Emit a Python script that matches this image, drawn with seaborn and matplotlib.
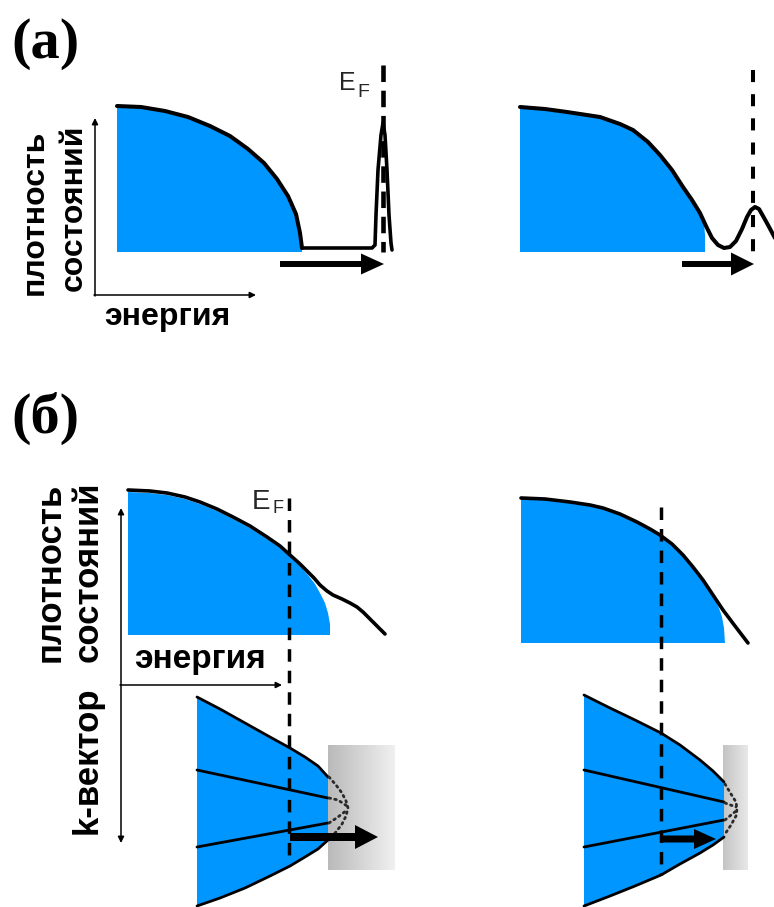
import numpy as np
import matplotlib
matplotlib.use("Agg")
import matplotlib.pyplot as plt
from matplotlib.patches import FancyArrow
import seaborn as sns

sns.set_theme(style="white")
plt.rcParams['font.family'] = ['Liberation Sans', 'DejaVu Sans']

BLUE = "#0096ff"

# ---------------- panel (а): density of states ----------------
# left: filled band with an isolated narrow peak at E_F
a1_band_x = [117, 141, 165, 188, 210, 230, 248, 264, 277, 288, 296, 300, 302]
a1_band_y = [106, 107, 111, 117, 126, 136, 149, 163, 179, 196, 214, 233, 250]
a1_tail_x = [302, 372, 375, 376, 378, 381, 383, 385, 387, 389, 391, 392]
a1_tail_y = [248, 248, 245, 215, 170, 135, 123, 135, 170, 215, 243, 250]
a1_ef_x = 383

# right: band edge merged with a broadened peak
a2_curve_x = [520, 545, 567, 600, 620, 633, 648, 660, 672, 683, 692, 700, 706,
              712, 718, 724, 730, 736, 742, 747, 751, 755, 759, 763, 768, 776]
a2_curve_y = [107, 109, 112, 117, 124, 130, 142, 155, 170, 187, 200, 213, 226,
              238, 245, 248, 247, 241, 229, 217, 210, 207, 209, 216, 225, 240]
a2_fill_x = [520, 545, 567, 600, 620, 633, 648, 660, 672, 683, 692, 700, 704, 705, 705]
a2_fill_y = [107, 109, 112, 117, 124, 130, 142, 155, 170, 187, 200, 213, 222, 235, 252]
a2_ef_x = 753

# ---------------- panel (б): DOS and k-space cones ----------------
b1_curve_x = [128, 150, 167, 185, 200, 217, 233, 250, 267, 280, 290, 300, 307, 314,
              320, 327, 333, 342, 350, 357, 363, 368, 373, 379, 385]
b1_curve_y = [490, 491, 493, 497, 502, 509, 517, 526, 537, 546, 555, 564, 571, 578,
              585, 591, 595, 599, 603, 607, 612, 617, 622, 628, 634]
b1_fill_x = [128, 150, 167, 185, 200, 217, 233, 250, 267, 280, 290, 300, 308, 315,
             320, 325, 328, 330, 330]
b1_fill_y = [492, 493, 495, 499, 504, 511, 519, 528, 539, 548, 557, 566, 575, 584,
             593, 603, 613, 624, 635]
b1_ef_x = 289

b2_curve_x = [521, 545, 570, 590, 603, 620, 637, 650, 660, 672, 683, 693, 703, 713, 723, 735, 748]
b2_curve_y = [498, 499, 502, 505, 508, 514, 522, 529, 535, 544, 555, 567, 580, 595, 610, 626, 643]
b2_fill_x = [521, 545, 570, 590, 603, 620, 637, 650, 660, 672, 683, 693, 703, 709, 715, 719, 722, 724, 725]
b2_fill_y = [499, 500, 503, 506, 509, 515, 523, 530, 536, 545, 556, 568, 581, 590, 600, 608, 617, 628, 643]
b2_ef_x = 661

# cones in k-space: upper / lower boundaries and two inner rays
c1_up_x = [197, 220, 245, 270, 290, 305, 318, 328]
c1_up_y = [697, 709, 723, 737, 748, 757, 766, 777]
c1_lo_x = [197, 220, 245, 270, 290, 305, 318, 328]
c1_lo_y = [906, 898, 888, 876, 866, 857, 849, 840]
c1_rays = [([197, 328], [770, 798]), ([197, 328], [847, 823])]
c1_dots = [([329, 336, 342, 346, 348, 346, 342, 336, 330], [777, 785, 793, 801, 808, 816, 824, 832, 838]),
           ([329, 338, 347], [798, 800, 806]),
           ([329, 338, 347], [823, 817, 810])]

c2_up_x = [584, 610, 635, 661, 680, 700, 713, 724]
c2_up_y = [695, 708, 720, 733, 745, 760, 771, 782]
c2_lo_x = [584, 610, 635, 661, 680, 700, 713, 724]
c2_lo_y = [906, 896, 886, 875, 864, 853, 845, 837]
c2_rays = [([584, 724], [770, 802]), ([584, 724], [847, 820])]
c2_dots = [([725, 731, 736, 737, 736, 731, 725], [784, 794, 802, 809, 816, 825, 834]),
           ([725, 736], [803, 807]),
           ([725, 736], [820, 811])]

fig = plt.figure(figsize=(7.74, 9.07), dpi=100)
ax = fig.add_axes([0, 0, 1, 1])
ax.set_xlim(0, 774)
ax.set_ylim(907, 0)
ax.axis("off")

LW = 2.9   # main curve width (pt)


def curve(x, y, lw=LW, z=3, **kw):
    sns.lineplot(x=x, y=y, sort=False, estimator=None, color="black", lw=lw,
                 ax=ax, zorder=z, solid_capstyle="round", solid_joinstyle="round", **kw)


def band(x, y, base):
    xs = [x[0]] + list(x) + [x[-1]]
    ys = [base] + list(y) + [base]
    ax.fill(xs, ys, color=BLUE, lw=0, zorder=2)


def dashed(x, y0, y1, lw=2.9, pattern=(3, 3)):
    ax.plot([x, x], [y0, y1], color="black", lw=lw, dashes=pattern, zorder=5)


def fat_arrow(x0, x1, y, width, hw, hl):
    ax.add_patch(FancyArrow(x0, y, x1 - x0, 0, width=width, head_width=hw,
                            head_length=hl, length_includes_head=True,
                            color="black", lw=0, zorder=6))


def thin_arrow(p0, p1, both=False):
    ax.annotate("", xy=p1, xytext=p0,
                arrowprops=dict(arrowstyle="<|-|>" if both else "-|>", color="black",
                                lw=1.1, mutation_scale=9, shrinkA=0, shrinkB=0),
                zorder=4)


def gradient_box(x0, x1, y0, y1, c0, c1):
    g = np.linspace(0, 1, 64)[None, :]
    ax.imshow(g, cmap=matplotlib.colors.LinearSegmentedColormap.from_list("g", [c0, c1]),
              extent=(x0, x1, y1, y0), aspect="auto", zorder=1, interpolation="bilinear")


bold = dict(fontweight="bold", color="black")

# ---- (а) left ----
band(a1_band_x, a1_band_y, 252)
curve(a1_band_x[:-1] + [302], a1_band_y[:-1] + [248])
curve(a1_tail_x, a1_tail_y, lw=2.6)
dashed(a1_ef_x, 65, 252, lw=3.3, pattern=(3.6, 1.9))
fat_arrow(280, 384, 264, 6, 21, 23)
thin_arrow((95, 296), (95, 118))
thin_arrow((94, 295), (256, 295))
ax.text(339, 90, "E", fontsize=18, ha="left", va="baseline")
ax.text(357, 97, "F", fontsize=14, ha="left", va="baseline")
ax.text(43, 212, "плотность", rotation=90, rotation_mode="anchor", ha="center",
        va="baseline", fontsize=23, **bold)
ax.text(82, 208, "состояний", rotation=90, rotation_mode="anchor", ha="center",
        va="baseline", fontsize=23, **bold)
ax.text(167, 325, "энергия", ha="center", va="baseline", fontsize=23, **bold)
ax.text(11, 44, "(а)", family=["Liberation Serif"], fontsize=42, ha="left", va="center", **bold)

# ---- (а) right ----
ax.fill([520] + a2_fill_x, [252] + a2_fill_y, color=BLUE, lw=0, zorder=2)
curve(a2_curve_x, a2_curve_y)
dashed(a2_ef_x, 70, 252)
fat_arrow(682, 754, 264, 6, 23, 23)

# ---- (б) left ----
ax.fill([128] + b1_fill_x, [635] + b1_fill_y, color=BLUE, lw=0, zorder=2)
curve(b1_curve_x, b1_curve_y, lw=2.6)
gradient_box(328, 395, 745, 870, "#bababa", "#f0f0f0")
ax.fill(c1_up_x + c1_lo_x[::-1] + [197], c1_up_y + c1_lo_y[::-1] + [915],
        color=BLUE, lw=0, zorder=2)
curve(c1_up_x, c1_up_y, lw=2.0)
curve(c1_lo_x, c1_lo_y, lw=2.0)
for rx, ry in c1_rays:
    curve(rx, ry, lw=2.0)
for dx, dy in c1_dots:
    ax.plot(dx, dy, color="#2a2a2a", lw=2.0, ls=(0, (0.6, 1.5)), zorder=4,
            dash_capstyle="round")
dashed(b1_ef_x, 498, 855, lw=2.5, pattern=(3.6, 2.6))
fat_arrow(290, 378, 837, 8, 24, 23)
thin_arrow((121, 508), (121, 843), both=True)
thin_arrow((120, 685), (282, 685))
ax.text(252, 509, "E", fontsize=20, ha="left", va="baseline")
ax.text(272, 513, "F", fontsize=13, ha="left", va="baseline")
ax.text(60, 572, "плотность", rotation=90, rotation_mode="anchor", ha="center",
        va="baseline", fontsize=25, **bold)
ax.text(98, 572, "состояний", rotation=90, rotation_mode="anchor", ha="center",
        va="baseline", fontsize=25, **bold)
ax.text(200, 668, "энергия", ha="center", va="baseline", fontsize=24, **bold)
ax.text(97, 760, "k-вектор", rotation=90, rotation_mode="anchor", ha="center",
        va="baseline", fontsize=25, **bold)
ax.text(11, 418, "(б)", family=["Liberation Serif"], fontsize=42, ha="left", va="center", **bold)

# ---- (б) right ----
ax.fill([521] + b2_fill_x, [643] + b2_fill_y, color=BLUE, lw=0, zorder=2)
curve(b2_curve_x, b2_curve_y, lw=2.6)
gradient_box(723, 748, 745, 870, "#c4c4c4", "#e8e8e8")
ax.fill(c2_up_x + c2_lo_x[::-1] + [584], c2_up_y + c2_lo_y[::-1] + [915],
        color=BLUE, lw=0, zorder=2)
curve(c2_up_x, c2_up_y, lw=2.0)
curve(c2_lo_x, c2_lo_y, lw=2.0)
for rx, ry in c2_rays:
    curve(rx, ry, lw=2.0)
for dx, dy in c2_dots:
    ax.plot(dx, dy, color="#2a2a2a", lw=2.0, ls=(0, (0.6, 1.5)), zorder=4,
            dash_capstyle="round")
dashed(b2_ef_x, 507, 875, lw=2.5, pattern=(3.6, 2.6))
fat_arrow(661, 716, 839, 7, 20, 22)

ax.set_xlim(0, 774)
ax.set_ylim(907, 0)
fig.savefig("out.png", dpi=100)
